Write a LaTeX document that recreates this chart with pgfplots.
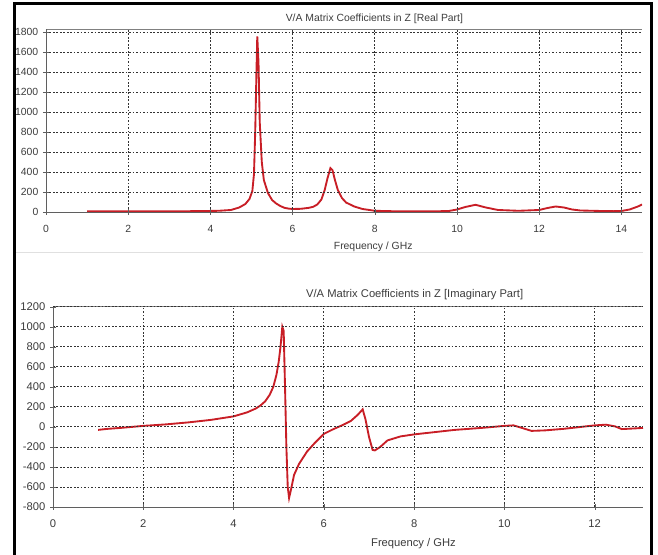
\documentclass[border=0pt]{standalone}
\usepackage{fontspec}
\setmainfont{Liberation Sans}
\usepackage{pgfplots}
\usepackage{pgfplotstable}
\pgfplotsset{compat=1.18}

\definecolor{curve}{RGB}{200,30,38}
\definecolor{axgray}{RGB}{95,95,95}
\definecolor{txt}{RGB}{60,60,60}

% real part of Z
\pgfplotstableread{
f v
1.0 8
1.5 8
2.0 8
2.5 8
3.0 8
3.5 8
3.9 10
4.2 12
4.5 20
4.7 45
4.85 80
4.95 130
5.02 210
5.06 380
5.09 800
5.12 1400
5.14 1760
5.17 1500
5.2 900
5.25 500
5.3 320
5.4 190
5.5 120
5.6 85
5.7 60
5.8 42
5.9 34
6.0 30
6.2 32
6.4 42
6.5 52
6.6 75
6.7 125
6.78 220
6.85 340
6.92 440
6.97 420
7.03 320
7.1 220
7.2 140
7.3 95
7.5 55
7.7 30
8.0 12
8.5 7
9.0 6
9.5 7
9.8 10
10.0 25
10.2 50
10.45 72
10.7 45
11.0 20
11.5 12
12.0 20
12.2 40
12.4 55
12.6 45
12.8 25
13.0 15
13.5 10
13.8 8
14.0 10
14.2 25
14.4 55
14.5 75
}\realdata

% imaginary part of Z
\pgfplotstableread{
f v
1.0 -30
1.2 -20
1.5 -10
2.0 10
2.5 25
3.0 45
3.5 70
4.0 105
4.3 145
4.5 185
4.6 215
4.7 255
4.8 320
4.88 400
4.95 520
5.0 650
5.04 800
5.08 1000
5.11 960
5.14 400
5.17 -200
5.2 -600
5.23 -710
5.27 -630
5.34 -480
5.45 -370
5.55 -300
5.63 -245
5.8 -160
6.0 -70
6.2 -25
6.4 15
6.6 60
6.75 120
6.86 175
6.92 80
7.0 -100
7.08 -230
7.13 -235
7.25 -200
7.41 -135
7.7 -95
8.0 -75
8.5 -50
8.9 -30
9.5 -10
10.0 10
10.2 15
10.35 -5
10.6 -40
10.9 -35
11.3 -20
11.7 0
12.0 15
12.25 22
12.45 5
12.6 -22
12.9 -15
13.07 -10
}\imagdata

\pgfplotsset{cst/.style={
  scale only axis, anchor=south west,
  xmin=0,
  axis x line*=bottom, axis y line*=left,
  axis line style={axgray,-},
  axis on top,
  tick align=center, major tick length=4.5pt,
  tick style={axgray},
  grid=major, major grid style={black!80, dash pattern=on 1.3pt off 1.3pt, line width=0.6pt},
  /pgf/number format/assume math mode=true,
  scaled y ticks=false,
  yticklabel style={/pgf/number format/1000 sep={}},
  xticklabel style={yshift=-4pt},
  tick label style={text=txt},
  every axis title shift=0pt,
  title style={anchor=center, text=txt},
  xlabel style={anchor=center, text=txt},
}}

\begin{document}
\begin{tikzpicture}
\useasboundingbox (0,0) rectangle (493.5pt,416.25pt);

\begin{axis}[cst,
  at={(34.5pt,257.25pt)}, width=447pt, height=137pt,
  xmax=14.5, ymin=0, ymax=1830,
  xtick={0,2,...,14}, ytick={0,200,...,1800},
  tick label style={font=\fontsize{7.8}{9}\selectfont},
  title={V/A Matrix Coefficients in Z [Real Part]},
  title style={at={(axis description cs:0.551,1.055)}, font=\fontsize{7.8}{9}\selectfont},
  xlabel={Frequency / GHz},
  xlabel style={at={(axis description cs:0.549,-0.19)}, font=\fontsize{7.8}{9}\selectfont},
]
\addplot[curve, line width=1.4pt] table[x=f, y=v] {\realdata};
\draw[gray] (rel axis cs:0,1) -- (rel axis cs:1,1);
\end{axis}

\begin{axis}[cst,
  at={(39.75pt,36pt)}, width=442.5pt, height=150.2pt,
  xmax=13.07, ymin=-800, ymax=1200,
  xtick={0,2,...,12}, ytick={-800,-600,...,1200},
  tick label style={font=\fontsize{8.4}{10}\selectfont},
  title={V/A Matrix Coefficients in Z [Imaginary Part]},
  title style={at={(axis description cs:0.613,1.06)}, font=\fontsize{8.4}{10}\selectfont},
  xlabel={Frequency / GHz},
  xlabel style={at={(axis description cs:0.611,-0.183)}, font=\fontsize{8.4}{10}\selectfont},
]
\addplot[curve, line width=1.4pt] table[x=f, y=v] {\imagdata};
\draw[gray] (rel axis cs:0,1) -- (rel axis cs:1,1);
\end{axis}

% panel separator and outer frame
\draw[black!12, line width=0.6pt] (12pt,227.25pt) -- (482pt,227.25pt);
\draw[black, line width=2.25pt] (10.9pt,-10pt) -- (10.9pt,413.6pt) -- (488.6pt,413.6pt) -- (488.6pt,-10pt);
\end{tikzpicture}
\end{document}
